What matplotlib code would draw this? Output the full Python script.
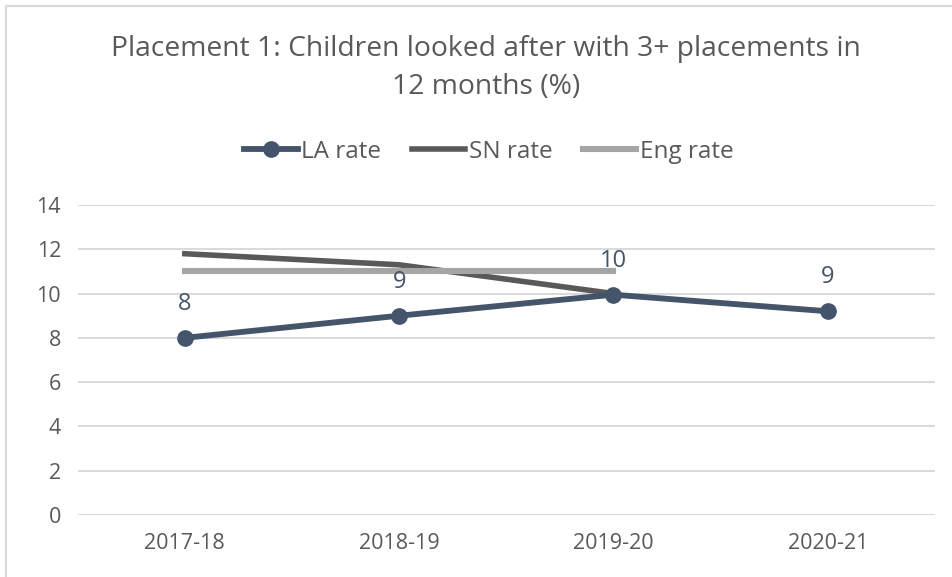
import matplotlib
matplotlib.use("Agg")
import matplotlib.pyplot as plt
from matplotlib.patches import Rectangle

years = ["2017-18", "2018-19", "2019-20", "2020-21"]
la_rate = [8.0, 9.0, 9.95, 9.2]
la_labels = ["8", "9", "10", "9"]
sn_rate = [11.8, 11.3, 10.0]
eng_rate = [11.0, 11.0, 11.0]

FONT = ["Open Sans", "DejaVu Sans"]
plt.rcParams["font.family"] = FONT

fig = plt.figure(figsize=(9.53, 5.77), dpi=100)
ax = fig.add_axes([0.0815, 0.1075, 0.8995, 0.5372])

x = list(range(len(years)))
ax.plot(x, la_rate, color="#44546A", lw=4.2, marker="o", ms=11, label="LA rate", zorder=4)
ax.plot(x[:len(sn_rate)], sn_rate, color="#595959", lw=4.0, label="SN rate", zorder=3)
ax.plot(x[:len(eng_rate)], eng_rate, color="#A5A5A5", lw=4.4, label="Eng rate", zorder=3)

for xi, v, lab in zip(x, la_rate, la_labels):
    ax.annotate(lab, (xi, v), xytext=(0, 24.5), textcoords="offset points",
                ha="center", va="center", fontsize=17, color="#44546A", zorder=5)

ax.set_xlim(-0.5, 3.5)
ax.set_ylim(0, 14)
ax.set_yticks(range(0, 15, 2))
ax.set_xticks(x)
ax.set_xticklabels(years)
ax.tick_params(axis="both", length=0, labelsize=15.5, colors="#595959")
ax.tick_params(axis="x", pad=13)
ax.tick_params(axis="y", pad=12)
ax.grid(axis="y", color="#D9D9D9", lw=1.4)
ax.set_axisbelow(True)
for s in ax.spines.values():
    s.set_visible(False)

fig.text(0.51, 0.915, "Placement 1: Children looked after with 3+ placements in",
         ha="center", va="center", fontsize=20.3, color="#595959")
fig.text(0.51, 0.849, "12 months (%)", ha="center", va="center", fontsize=20.3, color="#595959")

fig.legend(loc="center", bbox_to_anchor=(0.513, 0.737), ncol=3, frameon=False,
           fontsize=17.5, labelcolor="#595959", handlelength=2.2, handletextpad=0.15,
           columnspacing=1.25)

fig.add_artist(Rectangle((0.006, -0.01), 1.1, 1.0, transform=fig.transFigure,
                         fill=False, edgecolor="#D9D9D9", lw=1.5))

fig.savefig("out.png", dpi=100)
